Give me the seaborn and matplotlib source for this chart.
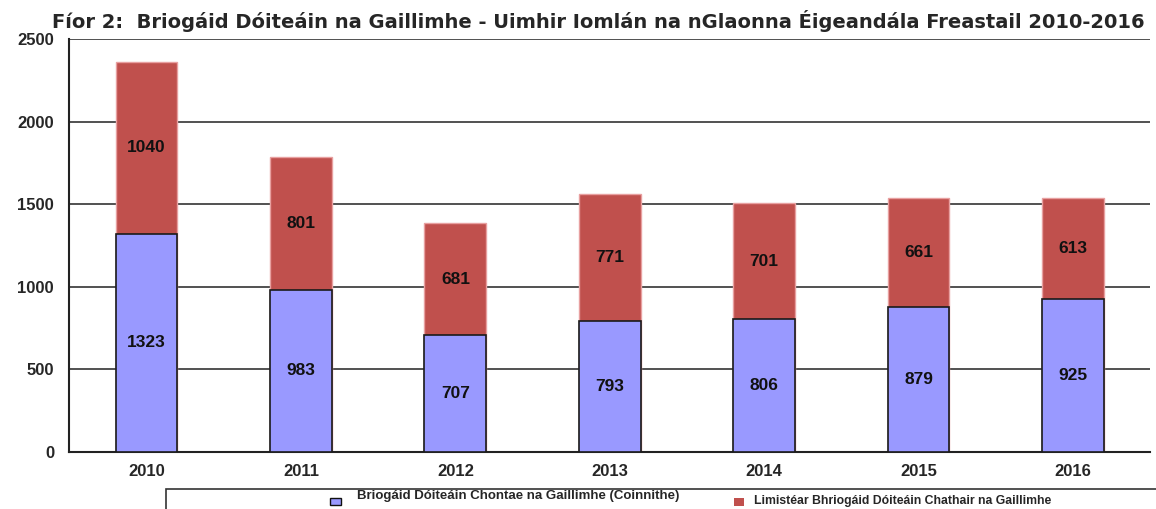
import pandas as pd
import seaborn as sns
from matplotlib import pyplot as plt
from matplotlib.patches import Rectangle

years = ["2010", "2011", "2012", "2013", "2014", "2015", "2016"]
county = [1323, 983, 707, 793, 806, 879, 925]   # Briogáid Dóiteáin Chontae
city = [1040, 801, 681, 771, 701, 661, 613]     # Limistéar Chathair
yticks = [0, 500, 1000, 1500, 2000, 2500]

title = "Fíor 2:  Briogáid Dóiteáin na Gaillimhe - Uimhir Iomlán na nGlaonna Éigeandála Freastail 2010-2016"
lab_county = "Briogáid Dóiteáin Chontae na Gaillimhe (Coinnithe)"
lab_city = "Limistéar Bhriogáid Dóiteáin Chathair na Gaillimhe"

df = pd.DataFrame({"Year": years, "County": county, "City": city})
df["Total"] = df["County"] + df["City"]

sns.set_style("white")
plt.rcParams["font.family"] = ["Liberation Sans", "DejaVu Sans"]
plt.rcParams["font.weight"] = "bold"

fig = plt.figure(figsize=(11.56, 5.09), dpi=100)
ax = fig.add_axes([0.060, 0.112, 0.935, 0.811])

# stacked: draw totals in red, then county portion in blue on top
sns.barplot(data=df, x="Year", y="Total", color="#C0504D", saturation=1,
            width=0.4, edgecolor="#E8A0A0", linewidth=1, ax=ax, zorder=2)
sns.barplot(data=df, x="Year", y="County", color="#9999FF", saturation=1,
            width=0.4, edgecolor="#1a1a1a", linewidth=1.2, ax=ax, zorder=3)

for i in range(len(years)):
    ax.text(i, county[i] / 2, str(county[i]), ha="center", va="center",
            fontsize=12.5, fontweight="bold", color="#111111", zorder=4)
    ax.text(i, county[i] + city[i] / 2, str(city[i]), ha="center", va="center",
            fontsize=12.5, fontweight="bold", color="#111111", zorder=4)

ax.set_ylim(0, 2500)
ax.set_xlim(-0.5, 6.5)
ax.set_yticks(yticks)
ax.set_yticklabels([str(v) for v in yticks], fontsize=12, fontweight="bold")
ax.set_xticklabels(years, fontsize=12, fontweight="bold")
ax.set_xticks([i + 0.5 for i in range(len(years) - 1)], minor=True)
ax.tick_params(axis="x", which="major", length=0, pad=9)
ax.tick_params(axis="x", which="minor", length=5, width=1.2, color="#222222", direction="out")
ax.tick_params(axis="y", length=7, width=1.2, color="#222222", direction="out", pad=4)
ax.yaxis.grid(True, color="#333333", linewidth=1.2)
ax.set_axisbelow(True)
ax.set_xlabel("")
ax.set_ylabel("")
for s in ["top", "right"]:
    ax.spines[s].set_visible(False)
ax.spines["left"].set_color("#222222")
ax.spines["left"].set_linewidth(1.5)
ax.spines["bottom"].set_color("#222222")
ax.spines["bottom"].set_linewidth(1.5)

fig.text(0.045, 0.958, title, fontsize=14, fontweight="bold", ha="left", va="center",
         family=["DejaVu Sans"])

# legend box, partly cut off at the bottom/right like the original
fig.patches.append(Rectangle((0.1436, -0.05), 0.9, 0.09, transform=fig.transFigure,
                             facecolor="white", edgecolor="#333333", linewidth=1.2))
fig.patches.append(Rectangle((0.2855, 0.0075), 0.0095, 0.0135, transform=fig.transFigure,
                             facecolor="#9999FF", edgecolor="#111111", linewidth=1))
fig.text(0.309, 0.0255, lab_county, fontsize=9.5, fontweight="bold", va="center")
fig.patches.append(Rectangle((0.635, 0.006), 0.0088, 0.016, transform=fig.transFigure,
                             facecolor="#C0504D", edgecolor="none"))
fig.text(0.652, 0.0155, lab_city, fontsize=8.8, fontweight="bold", va="center")

plt.savefig("out.png", dpi=100)
